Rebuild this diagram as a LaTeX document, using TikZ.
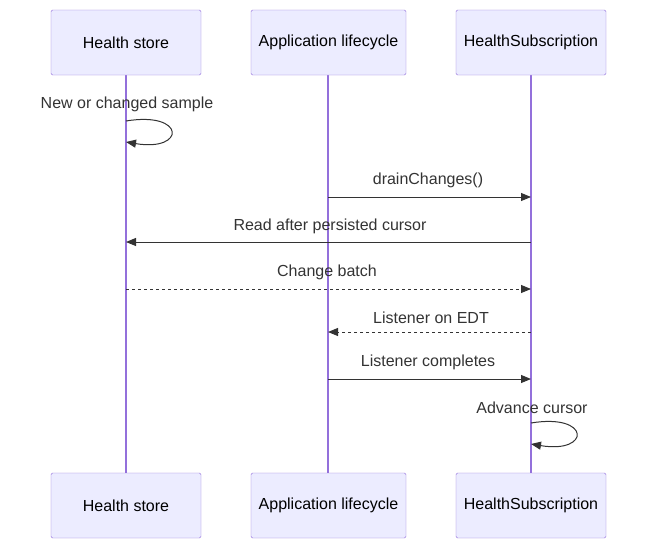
\documentclass[tikz,border=0pt]{standalone}
\usepackage{fontspec}
\setmainfont{Liberation Sans}
\usetikzlibrary{arrows.meta}
\definecolor{boxfill}{HTML}{ECECFF}
\definecolor{boxline}{HTML}{9370DB}
\definecolor{ink}{HTML}{333333}
\begin{document}
\begin{tikzpicture}[x=1pt,y=-1pt,
  actor/.style={draw=boxline,fill=boxfill,rounded corners=1.5pt,minimum height=65pt,text=black,font=\fontsize{16}{19}\selectfont,inner sep=0pt},
  life/.style={draw=boxline,line width=1.3pt},
  msg/.style={draw=ink,line width=1pt,-{Triangle[length=10pt,width=8pt]}},
  lbl/.style={text=ink,font=\fontsize{16}{19}\selectfont,inner sep=0pt}]
\useasboundingbox (0,0) rectangle (657,549);
\draw[life] (126,75) -- (126,473);
\draw[life] (328,75) -- (328,473);
\draw[life] (531,75) -- (531,473);
\node[actor,minimum width=150pt] (a1) at (126,42.5) {Health store};
\node[actor,minimum width=155pt] (b1) at (328.5,42.5) {Application lifecycle};
\node[actor,minimum width=150pt] (c1) at (531,42.5) {HealthSubscription};
\node[actor,minimum width=150pt] (a2) at (126,505.5) {Health store};
\node[actor,minimum width=155pt] (b2) at (328.5,505.5) {Application lifecycle};
\node[actor,minimum width=150pt] (c2) at (531,505.5) {HealthSubscription};
\coordinate (s1) at (126,121); \coordinate (e1) at (126,142);
\draw[msg] (s1) .. controls (186,111) and (186,152) .. (e1);
\node[lbl] (l1) at (127,104) {New or changed sample};
\coordinate (p1) at (328,197); \coordinate (q1) at (531,197);
\draw[msg] (p1) -- (q1);
\node[lbl] (l2) at (428,180) {drainChanges()};
\coordinate (p2) at (531,242); \coordinate (q2) at (126,242);
\draw[msg] (p2) -- (q2);
\node[lbl] (l3) at (330,226) {Read after persisted cursor};
\coordinate (p3) at (126,289); \coordinate (q3) at (531,289);
\draw[msg,dashed] (p3) -- (q3);
\node[lbl] (l4) at (327,272) {Change batch};
\coordinate (p4) at (531,332); \coordinate (q4) at (328,332);
\draw[msg,dashed] (p4) -- (q4);
\node[lbl] (l5) at (431,318) {Listener on EDT};
\coordinate (p5) at (328,379); \coordinate (q5) at (531,379);
\draw[msg] (p5) -- (q5);
\node[lbl] (l6) at (428,362) {Listener completes};
\coordinate (s2) at (531,423); \coordinate (e2) at (531,444);
\draw[msg] (s2) .. controls (591,413) and (591,454) .. (e2);
\node[lbl] (l7) at (532,408) {Advance cursor};
\end{tikzpicture}
\end{document}
